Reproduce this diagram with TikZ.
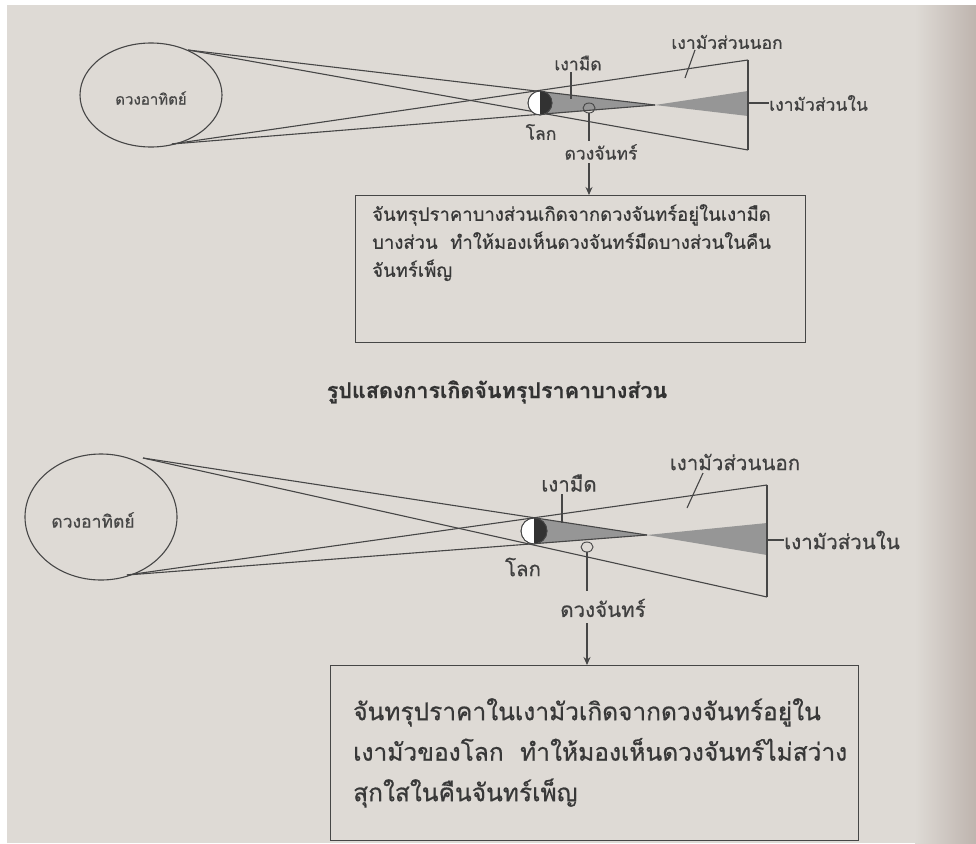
\documentclass[tikz,border=0pt]{standalone}
\usepackage{fontspec}
\newfontfamily\thai[Script=Thai, FakeBold=0.6]{Loma}
\usetikzlibrary{shapes.geometric,arrows.meta}

\definecolor{page}{RGB}{222,218,213}
\definecolor{pagedark}{RGB}{190,180,174}
\definecolor{ink}{RGB}{70,70,70}
\definecolor{umbra}{RGB}{150,150,150}
\definecolor{earthdark}{RGB}{50,50,50}

\tikzset{
  ray/.style={draw=ink, line width=1.1pt},
  lbl/.style={font=\thai\fontsize{17.5}{20}\selectfont, text=black!75, inner sep=0pt},
  lblb/.style={font=\thai\fontsize{20.5}{23}\selectfont, text=black!75, inner sep=0pt},
  sunbody/.style={ellipse, draw=ink, line width=1.1pt, inner sep=0pt},
  earthbody/.style={circle, draw=ink, fill=white, line width=0.8pt, inner sep=0pt},
  moonbody/.style={ellipse, draw=ink, line width=0.9pt, inner sep=0pt, minimum width=12pt, minimum height=10pt},
  notebox/.style={draw=ink, line width=1.2pt, inner sep=0pt, anchor=north west},
  notetext/.style={anchor=north west, align=left, inner sep=0pt, text=black!78},
  pointer/.style={draw=ink, line width=1.1pt, -{Stealth[length=8pt,width=7pt]}},
}

\begin{document}
\begin{tikzpicture}[x=1pt,y=-1pt]
% page
\fill[page] (0,0) rectangle (976,843);
\shade[left color=page, right color=pagedark] (915,0) rectangle (976,843);
\fill[white] (0,0) rectangle (976,5);
\fill[white] (0,0) rectangle (7,843);
\useasboundingbox (0,0) rectangle (976,843);

% ================= partial eclipse =================
\node[sunbody, minimum width=142pt, minimum height=104pt] (sunA) at (151,95) {};
\node[font=\thai\fontsize{15}{17}\selectfont, text=black!72, inner sep=0pt] (sunlA) at (151,98) {ดวงอาทิตย์};
\coordinate (sA1) at (188,50);
\coordinate (sA2) at (172,144);
\coordinate (eA1) at (538,91);
\coordinate (eA2) at (538,115);
\coordinate (apA) at (655,105);
\coordinate (bxA1) at (748,60);
\coordinate (bxA2) at (748,150);
\coordinate (tA1) at (748,91);
\coordinate (tA2) at (748,116);

% umbra and inner penumbra
\fill[umbra] (eA1) -- (apA) -- (eA2) -- cycle;
\fill[umbra] (apA) -- (tA1) -- (tA2) -- cycle;

% rays
\draw[ray] (sA1) -- (apA);
\draw[ray] (sA2) -- (apA);
\draw[ray] (sA1) -- (bxA2);
\draw[ray] (sA2) -- (bxA1);
\draw[ray] (bxA1) -- (bxA2);

% earth
\node[earthbody, minimum size=24pt] (earthA) at (540,103) {};
\fill[earthdark] (earthA.north) arc[start angle=90, end angle=-90, radius=12pt] -- cycle;
\draw[ink, line width=0.8pt] (earthA) circle[radius=12pt];

% moon
\node[moonbody] (moonA) at (589,108) {};

% labels
\node[lbl] (umA) at (578,63) {เงามืด};
\coordinate (umA0) at (571,72);
\coordinate (umA1) at (571,99);
\draw[ray] (umA0) -- (umA1);
\node[lbl] (peA) at (727,42) {เงามัวส่วนนอก};
\coordinate (peA0) at (695,50);
\coordinate (peA1) at (685,78);
\draw[ray] (peA0) -- (peA1);
\node[lbl, anchor=west] (inA) at (769,103) {เงามัวส่วนใน};
\draw[ray] (bxA1 |- inA) -- (inA.west);
\node[lbl] (erA) at (541,132) {โลก};
\node[lbl] (mnA) at (601,152) {ดวงจันทร์};
\coordinate (mlA) at (589,141);
\draw[ray] (moonA.south) -- (mlA);

% note
\node[notebox, minimum width=450pt, minimum height=147pt] (boxA) at (355,195) {};
\coordinate (arA) at (589,163);
\draw[pointer] (arA) -- (arA |- boxA.north);
\node[notetext, font=\thai\fontsize{18.5}{28}\selectfont] (ntA) at (372,204)
  {จันทรุปราคาบางส่วนเกิดจากดวงจันทร์อยู่ในเงามืด\\
   บางส่วน\ \ ทำให้มองเห็นดวงจันทร์มืดบางส่วนในคืน\\
   จันทร์เพ็ญ};

\node[font=\thai\bfseries\fontsize{21.5}{24}\selectfont, text=black!80, inner sep=0pt] (capA) at (497,392) {รูปแสดงการเกิดจันทรุปราคาบางส่วน};

% ================= penumbral eclipse =================
\node[sunbody, minimum width=152pt, minimum height=126pt] (sunB) at (101,517) {};
\node[font=\thai\fontsize{17.5}{20}\selectfont, text=black!72, inner sep=0pt] (sunlB) at (93,520) {ดวงอาทิตย์};
\coordinate (sB1) at (143,458);
\coordinate (sB2) at (127,575);
\coordinate (eB1) at (534,518);
\coordinate (eB2) at (534,544);
\coordinate (apB) at (647,535);
\coordinate (bxB1) at (767,485);
\coordinate (bxB2) at (767,597);
\coordinate (tB1) at (767,523);
\coordinate (tB2) at (767,555);

\fill[umbra] (eB1) -- (apB) -- (eB2) -- cycle;
\fill[umbra] (apB) -- (tB1) -- (tB2) -- cycle;

\draw[ray] (sB1) -- (apB);
\draw[ray] (sB2) -- (apB);
\draw[ray] (sB1) -- (bxB2);
\draw[ray] (sB2) -- (bxB1);
\draw[ray] (bxB1) -- (bxB2);

\node[earthbody, minimum size=26pt] (earthB) at (534,531) {};
\fill[earthdark] (earthB.north) arc[start angle=90, end angle=-90, radius=13pt] -- cycle;
\draw[ink, line width=0.8pt] (earthB) circle[radius=13pt];

\node[moonbody] (moonB) at (587,547) {};

\node[lblb] (umB) at (569,483) {เงามืด};
\coordinate (umB0) at (562,494);
\coordinate (umB1) at (562,523);
\draw[ray] (umB0) -- (umB1);
\node[lblb] (peB) at (735,462) {เงามัวส่วนนอก};
\coordinate (peB0) at (703,473);
\coordinate (peB1) at (687,508);
\draw[ray] (peB0) -- (peB1);
\node[lblb, anchor=west] (inB) at (784,540) {เงามัวส่วนใน};
\draw[ray] (bxB1 |- inB) -- (inB.west);
\node[lblb] (erB) at (523,567) {โลก};
\node[lblb] (mnB) at (603,608) {ดวงจันทร์};
\coordinate (mlB) at (587,591);
\draw[ray] (moonB.south) -- (mlB);

\node[notebox, minimum width=528pt, minimum height=175pt] (boxB) at (330,665) {};
\coordinate (arB) at (587,623);
\draw[pointer] (arB) -- (arB |- boxB.north);
\node[notetext, font=\thai\fontsize{24.5}{40.5}\selectfont] (ntB) at (353,698)
  {จันทรุปราคาในเงามัวเกิดจากดวงจันทร์อยู่ใน\\
   เงามัวของโลก\ \ ทำให้มองเห็นดวงจันทร์ไม่สว่าง\\
   สุกใสในคืนจันทร์เพ็ญ};
\end{tikzpicture}
\end{document}
